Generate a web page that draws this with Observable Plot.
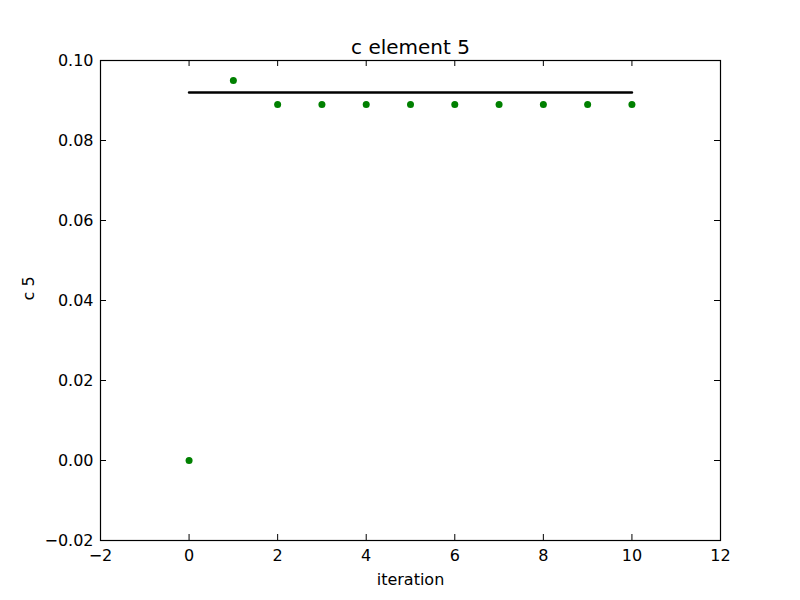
<!DOCTYPE html>
<html>
<head>
<meta charset="utf-8">
<script src="https://cdn.jsdelivr.net/npm/d3@7"></script>
<script src="https://cdn.jsdelivr.net/npm/@observablehq/plot@0.6"></script>
<style>
  html, body { margin: 0; padding: 0; background: #fff; }
  svg { font-family: "DejaVu Sans", sans-serif; }
</style>
</head>
<body>
<div id="chart"></div>
<script>
const iterations = [0, 1, 2, 3, 4, 5, 6, 7, 8, 9, 10];
const c5Values = [0.0, 0.095, 0.089, 0.089, 0.089, 0.089, 0.089, 0.089, 0.089, 0.089, 0.089];
const refLineX = [0, 10];
const refLineY = [0.092, 0.092];
const xTicks = [-2, 0, 2, 4, 6, 8, 10, 12];
const yTicks = [-0.02, 0.0, 0.02, 0.04, 0.06, 0.08, 0.10];
const titleText = "c element 5";
const xLabel = "iteration";
const yLabel = "c 5";

const points = iterations.map((x, i) => ({x, y: c5Values[i]}));
const line = refLineX.map((x, i) => ({x, y: refLineY[i]}));

const W = 800, H = 600, mL = 100, mR = 80, mT = 60, mB = 60;
const innerH = H - mT - mB, innerW = W - mL - mR;
const tk = 6;

const chart = Plot.plot({
  width: W,
  height: H,
  marginLeft: mL,
  marginRight: mR,
  marginTop: mT,
  marginBottom: mB,
  style: {fontFamily: "DejaVu Sans, sans-serif", fontSize: "16px", color: "black", background: "white"},
  x: {domain: [-2, 12]},
  y: {domain: [-0.02, 0.10]},
  marks: [
    Plot.axisX(xTicks, {anchor: "bottom", tickSize: 0, tickPadding: 9, fontSize: 16, label: null, tickFormat: d3.format("d")}),
    Plot.axisY(yTicks, {anchor: "left", tickSize: 0, tickPadding: 7, fontSize: 16, label: null, tickFormat: d3.format(".2f")}),
    Plot.tickX(xTicks, {x: d => d, insetTop: innerH - tk, stroke: "black", strokeWidth: 1}),
    Plot.tickX(xTicks, {x: d => d, insetBottom: innerH - tk, stroke: "black", strokeWidth: 1}),
    Plot.tickY(yTicks, {y: d => d, insetRight: innerW - tk, stroke: "black", strokeWidth: 1}),
    Plot.tickY(yTicks, {y: d => d, insetLeft: innerW - tk, stroke: "black", strokeWidth: 1}),
    Plot.line(line, {x: "x", y: "y", stroke: "black", strokeWidth: 2.5}),
    Plot.dot(points, {x: "x", y: "y", r: 3.5, fill: "#008000", stroke: "none"}),
    Plot.frame({stroke: "black", strokeWidth: 1.2}),
    Plot.text([titleText], {frameAnchor: "top", lineAnchor: "middle", dy: -13, fontSize: 20, fill: "black", text: d => d}),
    Plot.text([xLabel], {frameAnchor: "bottom", lineAnchor: "middle", dy: 39, fontSize: 16, fill: "black", text: d => d}),
    Plot.text([yLabel], {frameAnchor: "left", lineAnchor: "middle", dx: -72, rotate: -90, fontSize: 16, fill: "black", text: d => d})
  ]
});
document.getElementById("chart").appendChild(chart);
</script>
</body>
</html>
